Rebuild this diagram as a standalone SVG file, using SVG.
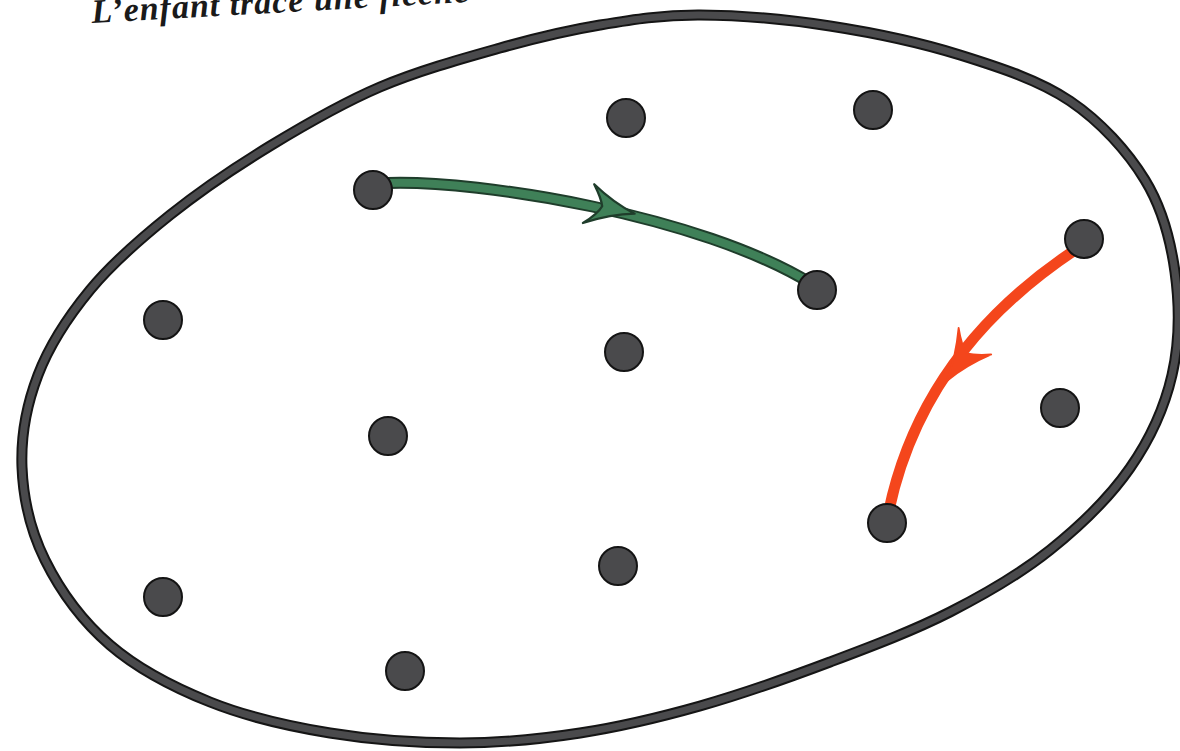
<svg xmlns="http://www.w3.org/2000/svg" width="1180" height="751" viewBox="0 0 1180 751">
<style>
.bg{fill:#ffffff}
.outline-edge{fill:none;stroke:#151515;stroke-width:11}
.outline{fill:none;stroke:#4a4a4c;stroke-width:7}
.dot{fill:#4a4a4c;stroke:#141414;stroke-width:2}
.g-edge{fill:none;stroke:#1f3d2b;stroke-width:12;stroke-linecap:round}
.g-line{fill:none;stroke:#3f8058;stroke-width:8;stroke-linecap:round}
.g-head{fill:#3f8058;stroke:#1f3d2b;stroke-width:2;stroke-linejoin:round}
.r-line{fill:none;stroke:#f4461c;stroke-width:11;stroke-linecap:round}
.r-head{fill:#f4461c;stroke:#f4461c;stroke-width:1.5;stroke-linejoin:round}
.caption{font-family:"Liberation Serif","DejaVu Serif",serif;font-weight:bold;font-style:italic;font-size:34px;letter-spacing:1px;fill:#1a1a1a}
</style>
<defs>
<path id="barb" d="M22,0 Q2,-5 -18,-17 Q-9,-6 -7,0 Q-9,7 -20,18 Q2,5 22,0 Z"/>
<path id="boundary" d="M700,15 C738.3,15.2 786.7,19.3 830,26 C873.3,32.7 920,42.5 960,55 C1000,67.5 1039.2,80.2 1070,101 C1100.8,121.8 1127.5,151.5 1145,180 C1162.5,208.5 1170.5,239.5 1175,272 C1179.5,304.5 1179.5,342.3 1172,375 C1164.5,407.7 1150.3,438.8 1130,468 C1109.7,497.2 1080,526 1050,550 C1020,574 986.7,593.3 950,612 C913.3,630.7 871.7,646.3 830,662 C788.3,677.7 741.7,694.2 700,706 C658.3,717.8 620,726.8 580,733 C540,739.2 501.7,743 460,743 C418.3,743 371.7,739.8 330,733 C288.3,726.2 246.7,716.7 210,702 C173.3,687.3 137.5,668.7 110,645 C82.5,621.3 59.7,589.7 45,560 C30.3,530.3 23.2,497.8 22,467 C20.8,436.2 26.7,404.5 38,375 C49.3,345.5 68,316.7 90,290 C112,263.3 140,239 170,215 C200,191 235,167.3 270,146 C305,124.7 341.7,103.3 380,87 C418.3,70.7 463.3,58.3 500,48 C536.7,37.7 566.7,30.5 600,25 C633.3,19.5 661.7,14.8 700,15 Z"/>
</defs>
<rect class="bg" x="0" y="0" width="1180" height="751"/>
<text class="caption" x="92" y="23" transform="rotate(-3.2 92 23)">L’enfant trace une flèche</text>
<g id="set">
<use href="#boundary" class="outline-edge"/>
<use href="#boundary" class="outline"/>
</g>
<g id="connectors">
<path class="g-edge" d="M388,183 C480,180 700,215 812,284"/>
<path class="g-line" d="M388,183 C480,180 700,215 812,284"/>
<use href="#barb" class="g-head" transform="translate(610,208) rotate(13) scale(1.15)"/>
<path class="r-line" d="M1075,250 C1000,300 915,380 888,515"/>
<use href="#barb" class="r-head" transform="translate(962,360) rotate(126) scale(1.2)"/>
</g>
<g id="p1"><circle class="dot" cx="626" cy="118" r="19"/></g>
<g id="p2"><circle class="dot" cx="873" cy="110" r="19"/></g>
<g id="p3"><circle class="dot" cx="373" cy="190" r="19"/></g>
<g id="p4"><circle class="dot" cx="817" cy="290" r="19"/></g>
<g id="p5"><circle class="dot" cx="1084" cy="239" r="19"/></g>
<g id="p6"><circle class="dot" cx="163" cy="320" r="19"/></g>
<g id="p7"><circle class="dot" cx="624" cy="352" r="19"/></g>
<g id="p8"><circle class="dot" cx="1060" cy="408" r="19"/></g>
<g id="p9"><circle class="dot" cx="388" cy="436" r="19"/></g>
<g id="p10"><circle class="dot" cx="887" cy="523" r="19"/></g>
<g id="p11"><circle class="dot" cx="618" cy="566" r="19"/></g>
<g id="p12"><circle class="dot" cx="163" cy="597" r="19"/></g>
<g id="p13"><circle class="dot" cx="405" cy="671" r="19"/></g>
</svg>
